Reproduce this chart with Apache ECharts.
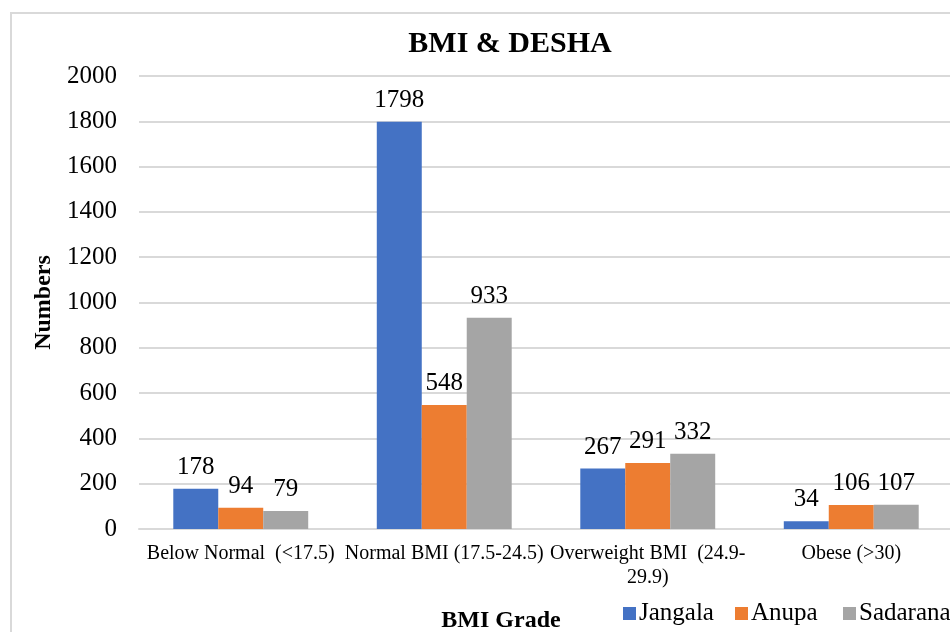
<!DOCTYPE html>
<html>
<head>
<meta charset="utf-8">
<script src="https://cdn.jsdelivr.net/npm/echarts@6/dist/echarts.min.js"></script>
<style>html,body{margin:0;padding:0;background:#fff}#c{width:950px;height:632px}</style>
</head>
<body>
<div id="c"></div>
<script>
const categories = ["Below Normal  (<17.5)", "Normal BMI (17.5-24.5)", "Overweight BMI  (24.9-\n29.9)", "Obese (>30)"];
const jangala = [178, 1798, 267, 34];
const anupa = [94, 548, 291, 106];
const sadarana = [79, 933, 332, 107];
const seriesNames = ["Jangala", "Anupa", "Sadarana"];
const colors = ["#4472C4", "#ED7D31", "#A5A5A5"];

const FONT = "'Liberation Serif', 'Times New Roman', serif";
const chart = echarts.init(document.getElementById('c'), null, {renderer: 'canvas'});

function mk(name, data, color) {
  return {
    name: name, type: 'bar', data: data,
    barGap: '0%', barCategoryGap: '33.7%',
    itemStyle: {color: color},
    label: {show: true, position: 'top', distance: 9, color: '#000', fontFamily: FONT, fontSize: 25},
    emphasis: {disabled: true}
  };
}

const legendLefts = [621, 733, 841];
const legends = seriesNames.map(function (n, i) {
  return {
    data: [n], left: legendLefts[i], top: 596, itemWidth: 13, itemHeight: 13, padding: [5, 2, 5, 2],
    icon: 'rect', selectedMode: false,
    textStyle: {fontFamily: FONT, fontSize: 25, color: '#000', padding: [0, 0, 0, -2]}
  };
});

chart.setOption({
  animation: false,
  textStyle: {fontFamily: FONT},
  title: {
    text: 'BMI & DESHA', left: 505, top: 24, textAlign: 'center',
    textStyle: {fontFamily: FONT, fontSize: 30, fontWeight: 'bold', color: '#000'}
  },
  graphic: [{
    type: 'rect', shape: {x: 11, y: 13, width: 1200, height: 800},
    style: {fill: 'none', stroke: '#d9d9d9', lineWidth: 2}, silent: true, z: -1
  }],
  legend: legends,
  grid: {left: 139, top: 76, width: 814, height: 453, containLabel: false, outerBoundsMode: 'none'},
  xAxis: {
    type: 'category', data: categories,
    name: 'BMI Grade', nameLocation: 'middle', nameGap: 80,
    nameTextStyle: {fontFamily: FONT, fontSize: 24, fontWeight: 'bold', color: '#000', padding: [0, 90, 0, 0]},
    axisLine: {lineStyle: {color: '#d9d9d9', width: 2}},
    axisTick: {show: false},
    axisLabel: {interval: 0, color: '#000', fontFamily: FONT, fontSize: 20, margin: 13, lineHeight: 24}
  },
  yAxis: {
    type: 'value', min: 0, max: 2000, interval: 200,
    name: 'Numbers', nameLocation: 'middle', nameGap: 79, nameRotate: 90,
    nameTextStyle: {fontFamily: FONT, fontSize: 24, fontWeight: 'bold', color: '#000'},
    axisLine: {show: false}, axisTick: {show: false},
    axisLabel: {color: '#000', fontFamily: FONT, fontSize: 25, margin: 22, formatter: function (v) { return String(v); }},
    splitLine: {lineStyle: {color: '#d9d9d9', width: 2}}
  },
  series: [mk(seriesNames[0], jangala, colors[0]), mk(seriesNames[1], anupa, colors[1]), mk(seriesNames[2], sadarana, colors[2])]
});
</script>
</body>
</html>
